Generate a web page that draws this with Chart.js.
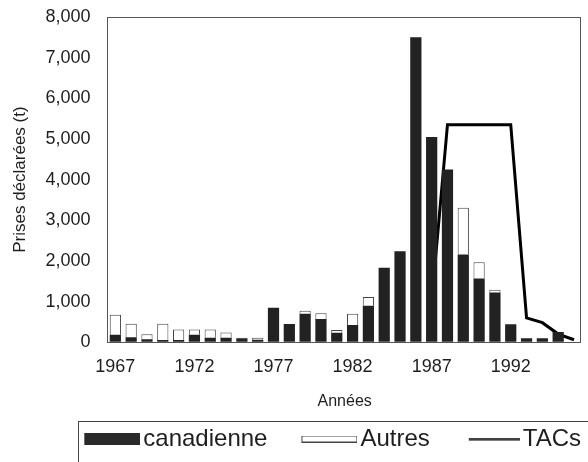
<!DOCTYPE html>
<html lang="fr">
<head>
    <meta charset="UTF-8">
    <title>Prises déclarées</title>
    <script src="https://cdn.jsdelivr.net/npm/chart.js"></script>
    <style>
        html, body { margin: 0; padding: 0; background: #fff; }
        #wrap { width: 588px; height: 462px; }
    </style>
</head>
<body>
    <div id="wrap"><canvas id="myChart"></canvas></div>
    <script>
    // données
    const years = ['1967', '1968', '1969', '1970', '1971', '1972', '1973', '1974', '1975', '1976',
                   '1977', '1978', '1979', '1980', '1981', '1982', '1983', '1984', '1985', '1986',
                   '1987', '1988', '1989', '1990', '1991', '1992', '1993', '1994', '1995', '1996'];
    const canadienne = [185, 120, 70, 55, 55, 185, 110, 110, 100, 60,
                        850, 445, 700, 570, 235, 425, 895, 1830, 2240, 7500,
                        5050, 4250, 2160, 1565, 1225, 440, 95, 95, 250, null];
    const autres = [490, 335, 125, 400, 260, 130, 205, 130, 10, 50,
                    null, null, 75, 140, 65, 275, 215, null, null, null,
                    null, null, 1150, 400, 65, null, null, null, null, null];
    const tacs = [null, null, null, null, null, null, null, null, null, null,
                  null, null, null, null, null, null, null, null, null, null,
                  1000, 5350, 5350, 5350, 5350, 5350, 600, 480, 200, 60];
    const yTicks = [0, 1000, 2000, 3000, 4000, 5000, 6000, 7000, 8000];

    const fontFamily = '"Liberation Sans", Arial, Helvetica, sans-serif';
    const ink = '#1e1e1e';

    // symboles de la légende : la case réservée fait boxW, le dessin est calé à droite
    const boxW = 74;
    function swatch(h, draw) {
        const c = document.createElement('canvas');
        c.width = boxW + 18;
        c.height = h;
        draw(c.getContext('2d'), c.width);
        return c;
    }
    const swatches = [
        swatch(12, (g, w) => { g.fillStyle = '#2a2a2a'; g.fillRect(w - 56, 0, 56, 12); }),
        swatch(7, (g, w) => { g.fillStyle = '#fff'; g.fillRect(w - 56, 0, 56, 7); g.strokeStyle = '#444'; g.lineWidth = 1; g.strokeRect(w - 55.5, 0.5, 55, 6); }),
        swatch(3, (g, w) => { g.strokeStyle = '#000'; g.lineWidth = 2; g.beginPath(); g.moveTo(w - 51, 1.5); g.lineTo(w, 1.5); g.stroke(); })
    ];

    const framePlugin = {
        id: 'frame',
        beforeDatasetsDraw(chart) {
            const a = chart.chartArea;
            const g = chart.ctx;
            g.save();
            g.strokeStyle = '#555';
            g.lineWidth = 1;
            g.strokeRect(Math.round(a.left) + 0.5, Math.round(a.top) + 0.5,
                         Math.round(a.right - a.left) - 1, Math.round(a.bottom - a.top));
            g.restore();
        },
        afterDraw(chart) {
            const l = chart.legend;
            const g = chart.ctx;
            g.save();
            g.strokeStyle = '#444';
            g.lineWidth = 1;
            g.strokeRect(78.5, Math.round(l.top) + 1.5, 600, 100);
            g.restore();
        }
    };

    const ctx = document.getElementById('myChart').getContext('2d');
    new Chart(ctx, {
        type: 'bar',
        data: {
            labels: years,
            datasets: [
                {
                    label: 'canadienne',
                    data: canadienne,
                    backgroundColor: '#222',
                    borderWidth: 0,
                    barPercentage: 0.71,
                    categoryPercentage: 1,
                    order: 1
                },
                {
                    label: 'Autres',
                    data: autres,
                    backgroundColor: '#fff',
                    borderColor: '#444',
                    borderWidth: 1,
                    barPercentage: 0.71,
                    categoryPercentage: 1,
                    order: 1
                },
                {
                    type: 'line',
                    label: 'TACs',
                    data: tacs,
                    borderColor: '#000',
                    backgroundColor: '#000',
                    borderWidth: 3,
                    pointRadius: 0,
                    tension: 0,
                    stack: 'tac',
                    order: 2
                }
            ]
        },
        options: {
            responsive: true,
            maintainAspectRatio: false,
            animation: false,
            layout: { padding: { top: 17, right: 0, left: 2, bottom: 1 } },
            plugins: {
                tooltip: { enabled: false },
                legend: {
                    position: 'bottom',
                    align: 'end',
                    labels: {
                        usePointStyle: true,
                        pointStyleWidth: boxW,
                        padding: 7,
                        color: ink,
                        font: { family: fontFamily, size: 24 },
                        generateLabels(chart) {
                            const items = Chart.defaults.plugins.legend.labels.generateLabels(chart);
                            items.forEach(it => { it.pointStyle = swatches[it.datasetIndex]; });
                            return items;
                        }
                    }
                }
            },
            scales: {
                x: {
                    stacked: true,
                    grid: { display: false, drawTicks: false },
                    border: { display: false },
                    ticks: {
                        autoSkip: false,
                        maxRotation: 0,
                        padding: 14,
                        color: ink,
                        font: { family: fontFamily, size: 18 },
                        callback: (v, i) => (i % 5 === 0 ? years[i] : '')
                    },
                    title: {
                        display: true,
                        text: 'Années',
                        color: ink,
                        font: { family: fontFamily, size: 16 },
                        padding: { top: 0, bottom: 9 }
                    }
                },
                y: {
                    stacked: true,
                    min: 0,
                    max: 8000,
                    afterBuildTicks: axis => { axis.ticks = yTicks.map(v => ({ value: v })); },
                    grid: { display: true, drawOnChartArea: false, drawTicks: true, tickLength: 15, color: 'rgba(0,0,0,0)' },
                    border: { display: false },
                    ticks: {
                        padding: 2,
                        color: ink,
                        font: { family: fontFamily, size: 18 },
                        callback: v => v.toLocaleString('en-US')
                    },
                    title: {
                        display: true,
                        text: 'Prises déclarées (t)',
                        color: ink,
                        font: { family: fontFamily, size: 17 },
                        padding: { top: 8, bottom: 13 }
                    }
                }
            }
        },
        plugins: [framePlugin]
    });
    </script>
</body>
</html>
